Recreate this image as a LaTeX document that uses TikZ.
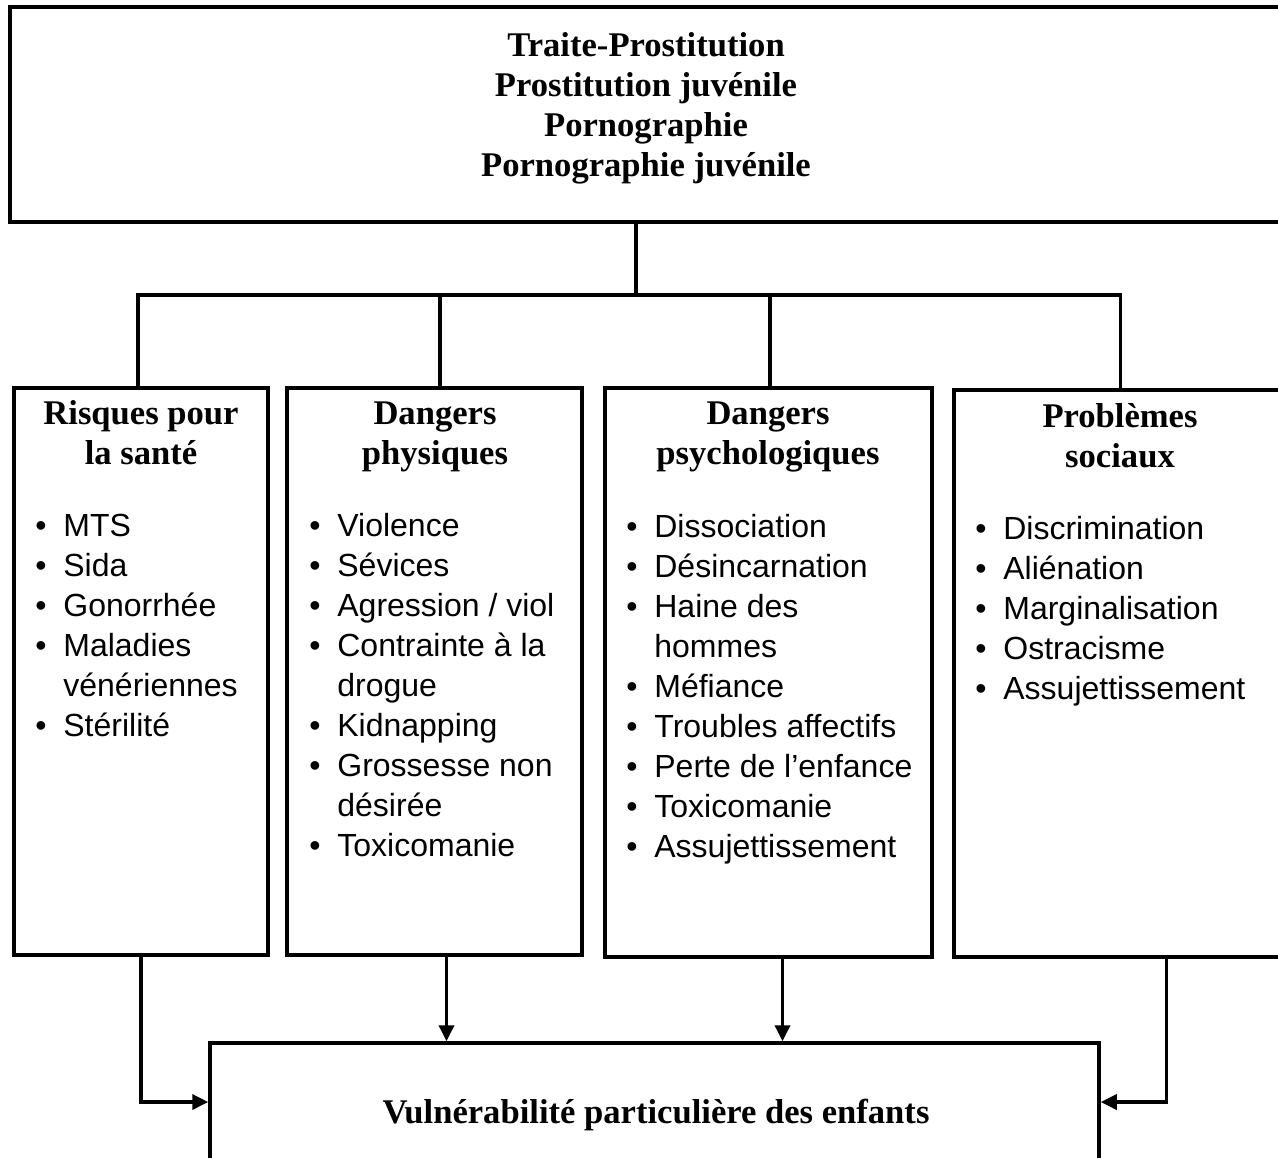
\documentclass[tikz,border=0pt]{standalone}
\usepackage{fontspec}
\setmainfont{Liberation Serif}
\setsansfont{Liberation Sans}
\usetikzlibrary{positioning,arrows.meta}

\begin{document}
\begin{tikzpicture}[x=0.5pt, y=-0.5pt,
    box/.style={draw, line width=1.75pt, inner sep=0pt},
    head/.style={font=\fontsize{17.3}{20}\selectfont\bfseries, inner sep=0pt, anchor=north},
    list/.style={font=\fontsize{16}{20}\selectfont\sffamily, inner sep=0pt, anchor=north west},
    link/.style={line width=1.75pt},
    arr/.style={line width=1.75pt, -{Triangle[length=8pt, width=7.5pt]}}]
    \clip (0,0) rectangle (1278,1157);
    % boxes
    \node[box, minimum width=636pt, minimum height=107.5pt] (top) at (646,114.5) {};
    \node[box, minimum width=127pt, minimum height=283.5pt] (sante) at (141,671.5) {};
    \node[box, minimum width=147.5pt, minimum height=283.5pt] (physique) at (434.5,671.5) {};
    \node[box, minimum width=163.5pt, minimum height=284.5pt] (psycho) at (768.5,672.5) {};
    \node[box, minimum width=166.5pt, minimum height=283.5pt] (social) at (1120.5,673.5) {};
    \node[box, minimum width=444.5pt, minimum height=71pt] (result) at (654.5,1114) {};
    % titles
    \node[head] (toptext) at (646,28) {\begin{tabular}{@{}c@{}}Traite-Prostitution\\Prostitution juvénile\\Pornographie\\Pornographie juvénile\end{tabular}};
    \node[head] (santehead) at (141,396) {\begin{tabular}{@{}c@{}}Risques pour\\la santé\end{tabular}};
    \node[head] (physiquehead) at (435,396) {\begin{tabular}{@{}c@{}}Dangers\\physiques\end{tabular}};
    \node[head] (psychohead) at (768,396) {\begin{tabular}{@{}c@{}}Dangers\\psychologiques\end{tabular}};
    \node[head] (socialhead) at (1120,399) {\begin{tabular}{@{}c@{}}Problèmes\\sociaux\end{tabular}};
    \node[font=\fontsize{17.3}{20}\selectfont\bfseries, inner sep=0pt, anchor=base] (resulttext) at (656,1123) {Vulnérabilité particulière des enfants};
    % lists
    \node[list] (santelist) at (35,508) {\begin{tabular}{@{}p{14pt}@{}l@{}}
        \textbullet & MTS\\
        \textbullet & Sida\\
        \textbullet & Gonorrhée\\
        \textbullet & Maladies\\
                    & vénériennes\\
        \textbullet & Stérilité
      \end{tabular}};
    \node[list] (physiquelist) at (309,508) {\begin{tabular}{@{}p{14pt}@{}l@{}}
        \textbullet & Violence\\
        \textbullet & Sévices\\
        \textbullet & Agression / viol\\
        \textbullet & Contrainte à la\\
                    & drogue\\
        \textbullet & Kidnapping\\
        \textbullet & Grossesse non\\
                    & désirée\\
        \textbullet & Toxicomanie
      \end{tabular}};
    \node[list] (psycholist) at (626,509) {\begin{tabular}{@{}p{14pt}@{}l@{}}
        \textbullet & Dissociation\\
        \textbullet & Désincarnation\\
        \textbullet & Haine des\\
                    & hommes\\
        \textbullet & Méfiance\\
        \textbullet & Troubles affectifs\\
        \textbullet & Perte de l’enfance\\
        \textbullet & Toxicomanie\\
        \textbullet & Assujettissement
      \end{tabular}};
    \node[list] (sociallist) at (975,511) {\begin{tabular}{@{}p{14pt}@{}l@{}}
        \textbullet & Discrimination\\
        \textbullet & Aliénation\\
        \textbullet & Marginalisation\\
        \textbullet & Ostracisme\\
        \textbullet & Assujettissement
      \end{tabular}};
    % connectors
    \coordinate (bus) at (0,295);
    \coordinate (join) at (0,1102);
    \draw[link] ([xshift=-5pt]top.south) -- ([xshift=-5pt]top.south |- bus);
    \draw[link] ([xshift=-1.5pt]sante.north) -- ([xshift=-1.5pt]sante.north |- bus) -- (social.north |- bus) -- (social.north);
    \draw[link] ([xshift=2.75pt]physique.north |- bus) -- ([xshift=2.75pt]physique.north);
    \draw[link] ([xshift=0.75pt]psycho.north |- bus) -- ([xshift=0.75pt]psycho.north);
    \draw[arr] (sante.south) |- (result.west |- join);
    \draw[arr] ([xshift=6pt]physique.south) -- ([xshift=6pt]physique.south |- result.north);
    \draw[arr] ([xshift=7pt]psycho.south) -- ([xshift=7pt]psycho.south |- result.north);
    \draw[arr] ([xshift=23pt]social.south) |- (result.east |- join);
\end{tikzpicture}
\end{document}
